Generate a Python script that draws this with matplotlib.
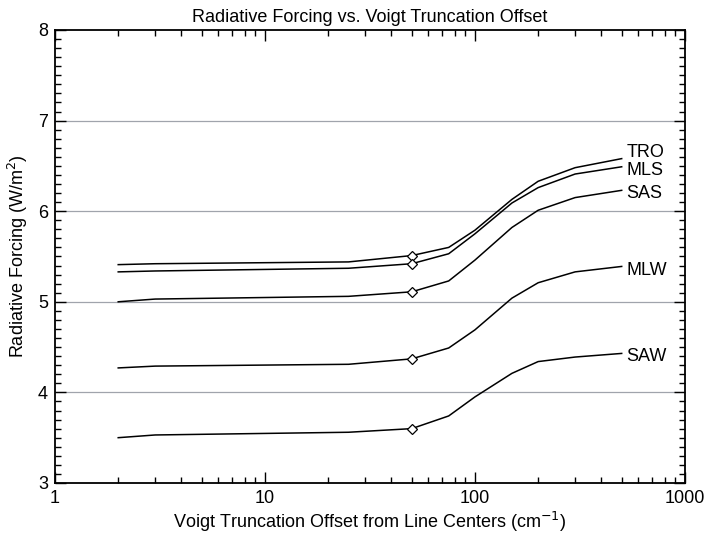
import matplotlib
matplotlib.use("Agg")
import matplotlib.pyplot as plt
from matplotlib.ticker import FixedLocator, NullFormatter, MultipleLocator

plt.rcParams['font.family'] = ['Liberation Sans', 'DejaVu Sans']

# truncation offsets (cm-1)
offset = [2, 3, 25, 50, 75, 100, 150, 200, 300, 500]

# radiative forcing (W/m2) for each atmosphere
tro = [5.41, 5.42, 5.44, 5.51, 5.60, 5.79, 6.13, 6.33, 6.48, 6.58]
mls = [5.33, 5.34, 5.37, 5.42, 5.53, 5.75, 6.09, 6.26, 6.41, 6.49]
sas = [5.00, 5.03, 5.06, 5.11, 5.23, 5.46, 5.82, 6.01, 6.15, 6.23]
mlw = [4.27, 4.29, 4.31, 4.37, 4.49, 4.69, 5.04, 5.21, 5.33, 5.39]
saw = [3.50, 3.53, 3.56, 3.60, 3.74, 3.95, 4.21, 4.34, 4.39, 4.43]

names = ["TRO", "MLS", "SAS", "MLW", "SAW"]
series = [tro, mls, sas, mlw, saw]
label_y = [6.65, 6.45, 6.20, 5.35, 4.40]

marker_x = 50
fs = 13

fig = plt.figure(figsize=(7.09, 5.36), dpi=100)
ax = fig.add_axes([0.0776, 0.0989, 0.8884, 0.8452])

for yv in [4, 5, 6, 7]:
    ax.axhline(yv, color="#a0a4ac", lw=0.9, zorder=1)

for name, vals, ly in zip(names, series, label_y):
    ax.plot(offset, vals, color="black", lw=1.1, zorder=2)
    i = offset.index(marker_x)
    ax.plot(offset[i], vals[i], marker="D", ms=5, mfc="white", mec="black",
            mew=0.9, zorder=3)
    ax.text(528, ly, name, fontsize=fs, va="center", ha="left")

ax.set_xscale("log")
ax.set_xlim(1, 1000)
ax.set_ylim(3, 8)
ax.set_xticks([1, 10, 100, 1000])
ax.set_xticklabels(["1", "10", "100", "1000"])
ax.xaxis.set_minor_locator(FixedLocator([m * 10**e for e in range(3) for m in range(2, 10)]))
ax.xaxis.set_minor_formatter(NullFormatter())
ax.yaxis.set_major_locator(MultipleLocator(1))
ax.yaxis.set_minor_locator(MultipleLocator(0.1))

ax.tick_params(which="both", direction="in", top=True, right=True, labelsize=fs, width=1)
ax.tick_params(which="major", length=8, pad=5)
ax.tick_params(which="minor", length=4)
for s in ax.spines.values():
    s.set_linewidth(1.3)

ax.set_title("Radiative Forcing vs. Voigt Truncation Offset", fontsize=fs, pad=6)
ax.set_xlabel("Voigt Truncation Offset from Line Centers (cm$^{-1}$)", fontsize=fs, labelpad=2)
ax.set_ylabel("Radiative Forcing (W/m$^{2}$)", fontsize=fs, labelpad=6)

fig.savefig("out.png", dpi=100)
